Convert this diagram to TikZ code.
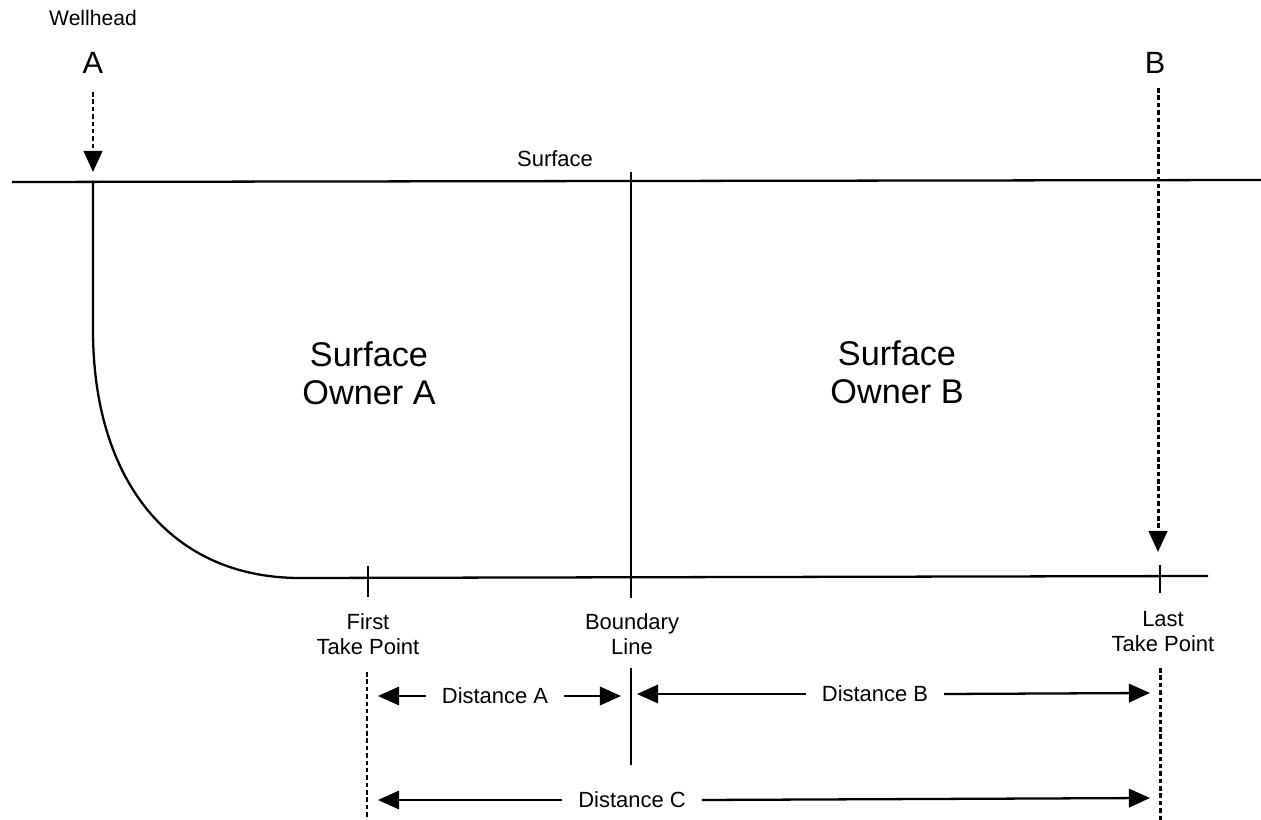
\documentclass[tikz,border=0pt]{standalone}
\usepackage{fontspec}
\setmainfont{Liberation Sans}
\usetikzlibrary{positioning,arrows.meta}

\begin{document}
\begin{tikzpicture}[
x=0.02cm,
y=-0.02cm,
>={Triangle[length=12pt,width=10.5pt]},
line width=1.3pt,
ownertext/.style={font=\fontsize{19.5}{21.5}\selectfont,align=center},
welltext/.style={font=\fontsize{17.5}{20}\selectfont,inner sep=0pt},
pointtext/.style={font=\fontsize{12.5}{14.2}\selectfont,align=center},
disttext/.style={font=\fontsize{12.5}{14}\selectfont,inner sep=0pt},
dotline/.style={line width=1.7pt,dash pattern=on 2.6pt off 1.6pt}
]

\useasboundingbox (0,0) rectangle (1261,820);

% wellhead markers
\node[pointtext,font=\fontsize{12}{14}\selectfont] (well) at (93,18) {Wellhead};
\node[welltext] (a) at (93,63) {A};
\node[welltext] (b) at (1155,63) {B};

% surface and owners
\coordinate (sl) at (12,182);
\coordinate (sr) at (1261,180);
\draw (sl) -- (sr);
\node[pointtext,above] (surf) at (555,174) {Surface};
\node[ownertext] (owna) at (369,373) {Surface\\Owner A};
\node[ownertext] (ownb) at (897,372) {Surface\\Owner B};

% well path
\coordinate (wa) at (93,181);
\coordinate (kop) at (93,330);
\coordinate (heel) at (300,578);
\coordinate (toe) at (1208,576);
\draw (wa) -- (kop) .. controls (93,480) and (170,578) .. (heel) -- (toe);

\draw[->,dotline] (93,92) -- (93,172);
\draw[->,dotline] (1158,88) -- (1158,552);

% take points and boundary
\draw (368,566) -- (368,597);
\draw (1160,565) -- (1160,593);
\coordinate (bt) at (631,172);
\coordinate (bb) at (631,598);
\draw (bt) -- (bb);
\draw (631,668) -- (631,765);

\node[pointtext] (first) at (368,634) {First\\Take Point};
\node[pointtext] (bound) at (632,634) {Boundary\\Line};
\node[pointtext] (last) at (1163,632) {Last\\Take Point};

\draw[dotline] (367,672) -- (367,820);
\draw[dotline] (1160,668) -- (1160,820);

% distances
\node[disttext] (da) at (495,696) {Distance A};
\node[disttext] (db) at (875,694) {Distance B};
\node[disttext] (dc) at (632,800) {Distance C};

\draw[->] ([xshift=-8.5pt]da.west) -- (378,696);
\draw[->] ([xshift=8.5pt]da.east) -- (621,696);
\draw[->] ([xshift=-8.5pt]db.west) -- (637,694);
\draw[->] ([xshift=8.5pt]db.east) -- (1150,693);
\draw[->] ([xshift=-8.5pt]dc.west) -- (378,800);
\draw[->] ([xshift=8.5pt]dc.east) -- (1150,798);

\end{tikzpicture}
\end{document}
